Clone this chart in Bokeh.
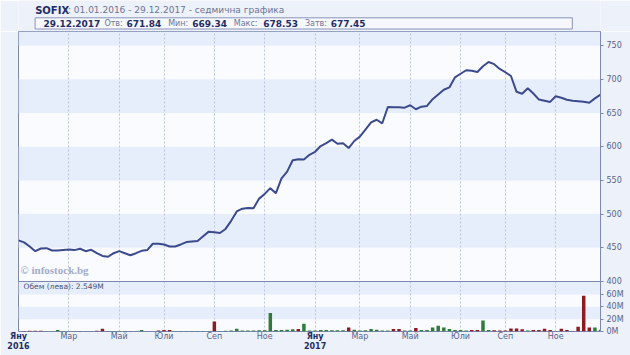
from bokeh.plotting import figure
from bokeh.layouts import column
from bokeh.models import (Range1d, FixedTicker, LinearAxis, BoxAnnotation, Label,
                          ColumnDataSource, Span, Grid)
from bokeh.embed import file_html
from bokeh.resources import INLINE
from bokeh.core.properties import value

# ---------------- data ----------------
ticker_name = "SOFIX"
period_text = ": 01.01.2016 - 29.12.2017 - седмична графика"
last_date = "29.12.2017"
info_labels = ["Отв:", "Мин:", "Макс:", "Затв:"]
info_values = ["671.84", "669.34", "678.53", "677.45"]
volume_note = "Обем (лева): 2.549M"
watermark = "© infostock.bg"

# weekly closes, 01.01.2016 .. 29.12.2017
close = [461, 458, 452, 445, 449, 449.5, 446, 446, 446.8, 447.5,
         446.6, 448.6, 445, 447, 442, 438, 436.7, 442, 445, 442,
         439, 442, 445.5, 446.6, 456, 456, 455, 452, 452, 455,
         458.5, 459.5, 460, 467, 474, 473, 472, 478, 490, 504,
         508, 509, 508.6, 523, 530, 538.5, 531, 553, 563, 580,
         581.5, 581, 588, 592.5, 601, 605.5, 610.5, 604.5, 605, 598,
         608.5, 615, 625.5, 636, 640, 634.8, 659, 658.6, 658.5, 658,
         661.5, 655.6, 659.5, 660.5, 670.5, 677.5, 684.5, 688, 703, 708.3,
         713.5, 712.6, 711, 719.5, 725.7, 722.5, 715.5, 710.5, 705, 681.5,
         678.7, 686.8, 679, 670, 668.3, 666.5, 675, 672.6, 669.8, 668.2,
         667.6, 666.8, 665.3, 671.8, 677.45]

# weekly turnover, million leva
volume = [0.5, 1.0, 1.2, 1.2, 1.2, 0.5, 0.5, 2.5, 1.0, 0.5,
          0.5, 0.8, 0.5, 0.8, 1.2, 4.5, 0.8, 0.8, 1.0, 0.8,
          0.8, 0.5, 2.5, 0.5, 0.5, 1.5, 2.5, 2.5, 1.0, 1.0,
          1.0, 1.0, 1.0, 1.0, 1.0, 16, 1.0, 1.2, 1.5, 4.5,
          1.5, 1.5, 1.5, 2.0, 2.0, 30, 2.5, 2.5, 3.0, 3.5,
          4.0, 12.5, 1.5, 1.5, 2.5, 2.5, 2.0, 2.0, 2.0, 6.5,
          3.0, 1.5, 2.0, 4.0, 3.0, 1.5, 1.5, 4.0, 4.0, 1.5,
          1.5, 5.5, 2.5, 2.5, 6.5, 9.5, 6.5, 4.0, 2.5, 2.5,
          1.5, 2.5, 2.5, 18, 2.5, 2.0, 1.5, 1.5, 5.0, 5.0,
          3.5, 1.5, 2.5, 2.5, 4.5, 2.5, 1.0, 4.5, 2.5, 1.0,
          7.5, 58, 6.5, 6.5, 3.0]

# bar direction per week: g = up week, r = down week
vol_dir = ("grrrrggggg" "ggggrrrggg" "gggggrrrgg" "gggggrgggg" "gggggggggg"
           "rggggggggr" "gggggggrrg" "grgggggggg" "grrggrrrrr" "rgrrrrgrrr" "rrrgg")

month_tick_weeks = [0, 9, 18, 26, 35, 44, 53, 61, 70, 79, 87, 96]
month_tick_labels = ["Яну", "Мар", "Май", "Юли", "Сеп", "Ное",
                     "Яну", "Мар", "Май", "Юли", "Сеп", "Ное"]
year_ticks = [0, 53]
year_labels = ["2016", "2017"]

price_ticks = [400, 450, 500, 550, 600, 650, 700, 750]
vol_ticks = [0, 20, 40, 60]
vol_tick_labels = ["0M", "20M", "40M", "60M"]

# ---------------- style ----------------
BG = "#edf1f9"
WHITE_BAND = "#fafbfe"
SHADE_BAND = "#e7eefb"
FRAME = "#7c88b0"
LINE = "#3b4a8c"
TICK_TXT = "#56628c"
NAVY = "#1f2d66"
GREY = "#6b7595"
RED = "#8e1b22"
GREEN = "#2f7b38"
FONT = "DejaVu Sans"

W = 630
HEAD_H = 31
PRICE_PX = 250
VOL_PX = 50
BOTTOM_PX = 24

PRICE_LO, PRICE_HI = 400, 771
VOL_TOP = 81

y_lo = PRICE_LO - (PRICE_HI - PRICE_LO) * VOL_PX / PRICE_PX
vol_end = VOL_TOP * (VOL_PX + PRICE_PX) / VOL_PX

# ---------------- header ----------------
head = figure(width=W, height=HEAD_H, x_range=Range1d(0, W), y_range=Range1d(HEAD_H, 0),
              output_backend="svg", toolbar_location=None, min_border=0,
              x_axis_type=None, y_axis_type=None, background_fill_color=BG,
              border_fill_color=BG, outline_line_color=None)
head.grid.visible = False
head.quad(left=[18], right=[599.5], top=[17.3], bottom=[28.5],
          fill_color="#f6f8fd", line_color="#8a94b8", line_width=1)
head.text(x=[18], y=[9.5], text=[ticker_name], text_font=value(FONT), text_font_size="10px",
          text_font_style="bold", text_color=NAVY, text_baseline="middle")
head.text(x=[53.5], y=[9.5], text=[period_text], text_font=value(FONT), text_font_size="9px",
          text_color=GREY, text_baseline="middle")
head.text(x=[27, 117, 188, 265, 338], y=[23] * 5, text=[last_date] + info_values,
          text_font=value(FONT), text_font_size="9px", text_font_style="bold",
          text_color=NAVY, text_baseline="middle")
head.text(x=[93, 162, 233, 310], y=[23] * 4, text=info_labels,
          text_font=value(FONT), text_font_size="8px", text_color=GREY, text_baseline="middle")

# ---------------- main (price + volume) ----------------
weeks = list(range(len(close)))
p = figure(width=W, height=PRICE_PX + VOL_PX + BOTTOM_PX,
           x_range=Range1d(0, len(close) - 1), y_range=Range1d(y_lo, PRICE_HI),
           output_backend="svg", toolbar_location=None,
           min_border_left=18, min_border_right=30, min_border_top=0,
           min_border_bottom=BOTTOM_PX, x_axis_type=None, y_axis_type=None,
           background_fill_color=WHITE_BAND, border_fill_color=BG,
           outline_line_color=FRAME, outline_line_width=1)
p.extra_y_ranges = {"vol": Range1d(0, vol_end)}

# bands
for b, t in [(450, 500), (550, 600), (650, 700), (750, PRICE_HI)]:
    p.add_layout(BoxAnnotation(bottom=b, top=t, fill_color=SHADE_BAND, fill_alpha=1,
                               line_color=None, level="image"))
for b, t in [(20, 40), (60, VOL_TOP)]:
    p.add_layout(BoxAnnotation(bottom=b, top=t, fill_color=SHADE_BAND, fill_alpha=1,
                               line_color=None, level="image", y_range_name="vol"))

p.add_layout(Grid(dimension=0, ticker=FixedTicker(ticks=month_tick_weeks),
                  grid_line_color="#bcc5dc", grid_line_dash="2 2", grid_line_width=1))

p.add_layout(Span(location=PRICE_LO, dimension="width", line_color=FRAME, line_width=1))

# volume bars
src = ColumnDataSource(dict(x=weeks, v=volume,
                            c=[RED if d == "r" else GREEN for d in vol_dir]))
p.vbar(x="x", top="v", bottom=0, width=0.62, source=src, fill_color="c",
       line_color=None, y_range_name="vol")

# price line
p.line(weeks, close, line_color=LINE, line_width=2)

# axes
vol_pos = [round(y_lo + v / vol_end * (PRICE_HI - y_lo), 4) for v in vol_ticks]
yax = LinearAxis(ticker=FixedTicker(ticks=price_ticks + vol_pos),
                 major_label_overrides={pos: lab for pos, lab in zip(vol_pos, vol_tick_labels)},
                 axis_line_color=FRAME, major_tick_line_color=FRAME, major_tick_in=0,
                 major_tick_out=3, minor_tick_line_color=None, major_label_standoff=3,
                 major_label_text_font=FONT, major_label_text_font_size="8px",
                 major_label_text_color=TICK_TXT)
p.add_layout(yax, "right")

x_over = {w: ("" if w in year_ticks else lab) for w, lab in zip(month_tick_weeks, month_tick_labels)}
xax = LinearAxis(ticker=FixedTicker(ticks=month_tick_weeks), major_label_overrides=x_over,
                 axis_line_color=None, major_tick_line_color=None, minor_tick_line_color=None,
                 major_tick_out=0, major_tick_in=0,
                 major_label_standoff=0, major_label_text_font=FONT,
                 major_label_text_font_size="8px", major_label_text_color=TICK_TXT)
p.add_layout(xax, "below")

# January labels with the year, bold, pulled up to the month row
jan_over = {w: month_tick_labels[month_tick_weeks.index(w)] + "\n" + yl
            for w, yl in zip(year_ticks, year_labels)}
xax2 = LinearAxis(ticker=FixedTicker(ticks=year_ticks), major_label_overrides=jan_over,
                  axis_line_color=None, major_tick_line_color=None, minor_tick_line_color=None,
                  major_tick_out=0, major_tick_in=0,
                  major_label_standoff=-12, major_label_text_font=FONT,
                  major_label_text_font_size="8px", major_label_text_font_style="bold",
                  major_label_text_color=NAVY)
p.add_layout(xax2, "below")

p.add_layout(Label(x=2, x_units="screen", y=62, y_units="screen", text=watermark,
                   text_baseline="middle", text_font="Liberation Serif",
                   text_font_size="11px", text_font_style="bold", text_color="#a3acc9"))
p.add_layout(Label(x=5, x_units="screen", y=45, y_units="screen", text=volume_note,
                   text_baseline="middle", text_font=FONT, text_font_size="7.5px",
                   text_color="#4a5275"))

layout = column(head, p, spacing=0)
open("out.html", "w").write(file_html(layout, INLINE))
